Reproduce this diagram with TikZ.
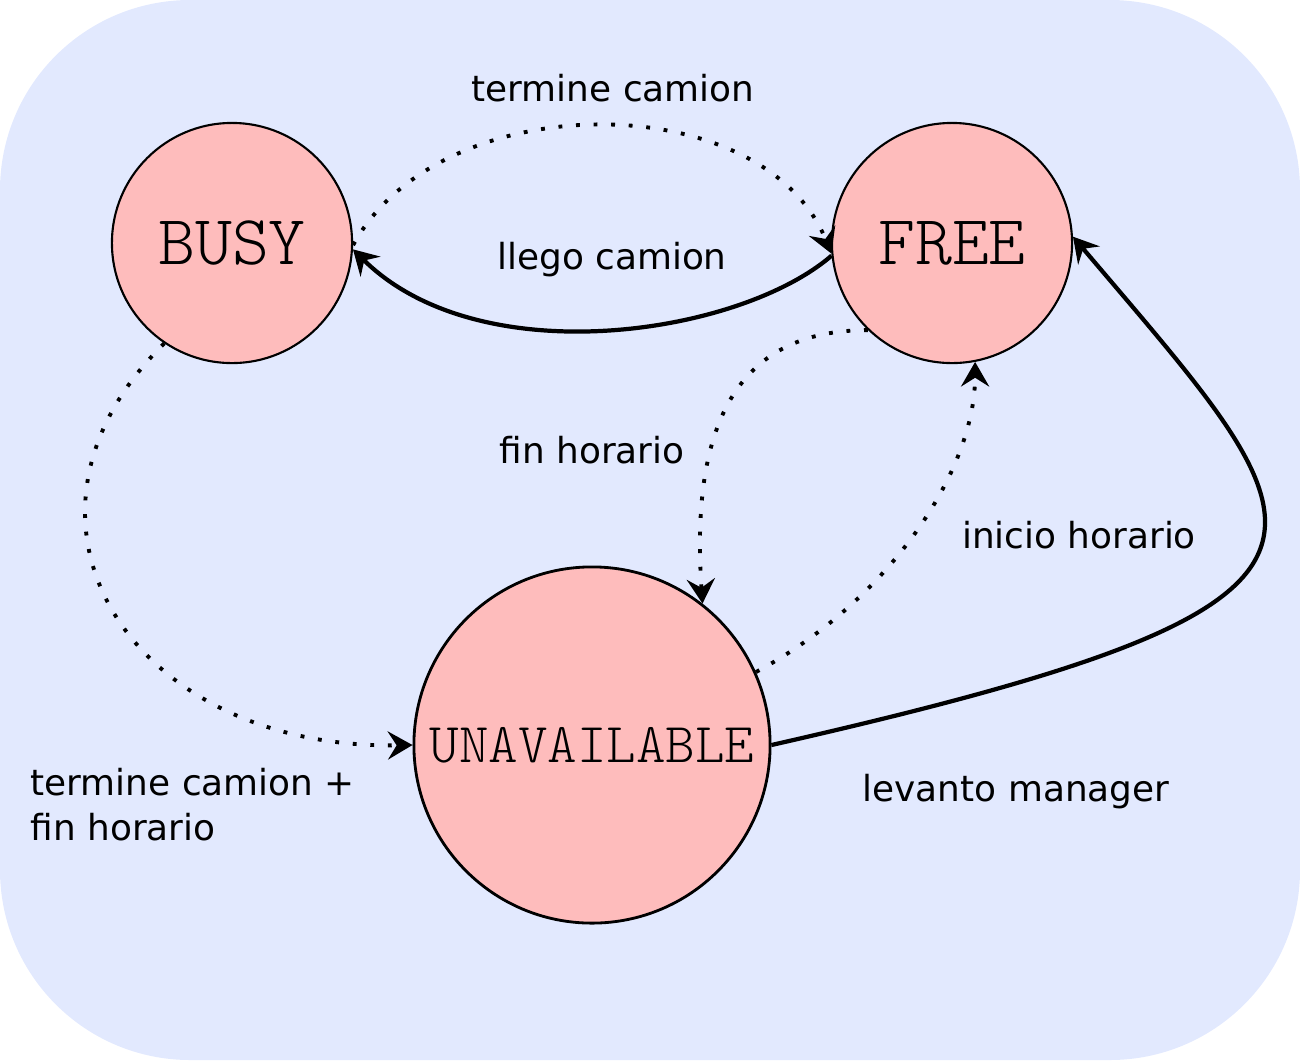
\documentclass[tikz,border=0pt]{standalone}
\usepackage{fontspec}
\setmainfont{DejaVu Sans}
\newfontfamily\statefont{Latin Modern Mono Light}
\usetikzlibrary{arrows.meta, positioning}
\definecolor{bgblue}{RGB}{226, 233, 254}
\definecolor{statepink}{RGB}{254, 188, 188}

\begin{document}
\begin{tikzpicture}[x=0.01cm, y=-0.01cm,
    every node/.style={font=\fontsize{10.2}{12.8}\selectfont},
    state/.style={circle, draw, fill=statepink, line width=0.6pt, inner sep=0pt,
      minimum size=2.4cm, font=\fontsize{20}{22}\selectfont\statefont},
    edgetip/.style={-{Stealth[length=7pt, width=8pt, inset=2.5pt]}},
    solidedge/.style={edgetip, line width=1.2pt},
    dottededge/.style={edgetip, line width=1.1pt, dash pattern=on 1.1pt off 3.9pt}]

    % Background
    \fill[bgblue, rounded corners=1.9cm] (0,0) rectangle (1300,1060);
    \useasboundingbox (0,0) rectangle (1300,1060);

    % States
    \node[state] (busy) at (232,243) {BUSY};
    \node[state] (free) at (952,243) {FREE};
    \node[state, minimum size=3.56cm, line width=0.8pt,
      font=\fontsize{16}{18}\selectfont\statefont] (unavail) at (592,745) {UNAVAILABLE};

    % Transitions
    \draw[dottededge] (busy.-1) .. controls (440,85) and (763,85) .. (free.185);
    \draw[solidedge] (free.186) .. controls (740,335) and (480,375) .. (busy.-3);
    \draw[dottededge] (free.-134) .. controls (740,330) and (690,420) .. (unavail.52);
    \draw[dottededge] (unavail.24) .. controls (890,600) and (975,470) .. (free.-79);
    \draw[dottededge] (busy.-124) .. controls (-15,520) and (130,750) .. (unavail.west);
    \draw[solidedge] (unavail.east) .. controls (1410,600) and (1330,540) .. (free.3);

    % Labels
    \node (lblterm) at (613,88) {termine camion};
    \node (lblllego) at (612,260) {llego camion};
    \node (lblfin) at (592,450) {fin horario};
    \node (lblinicio) at (1079,535) {inicio horario};
    \node (lbllevanto) at (1016,792) {levanto manager};
    \node[align=left, anchor=west, inner sep=0pt] (lblbusyout) at (30,805)
      {termine camion +\\fin horario};

\end{tikzpicture}
\end{document}
